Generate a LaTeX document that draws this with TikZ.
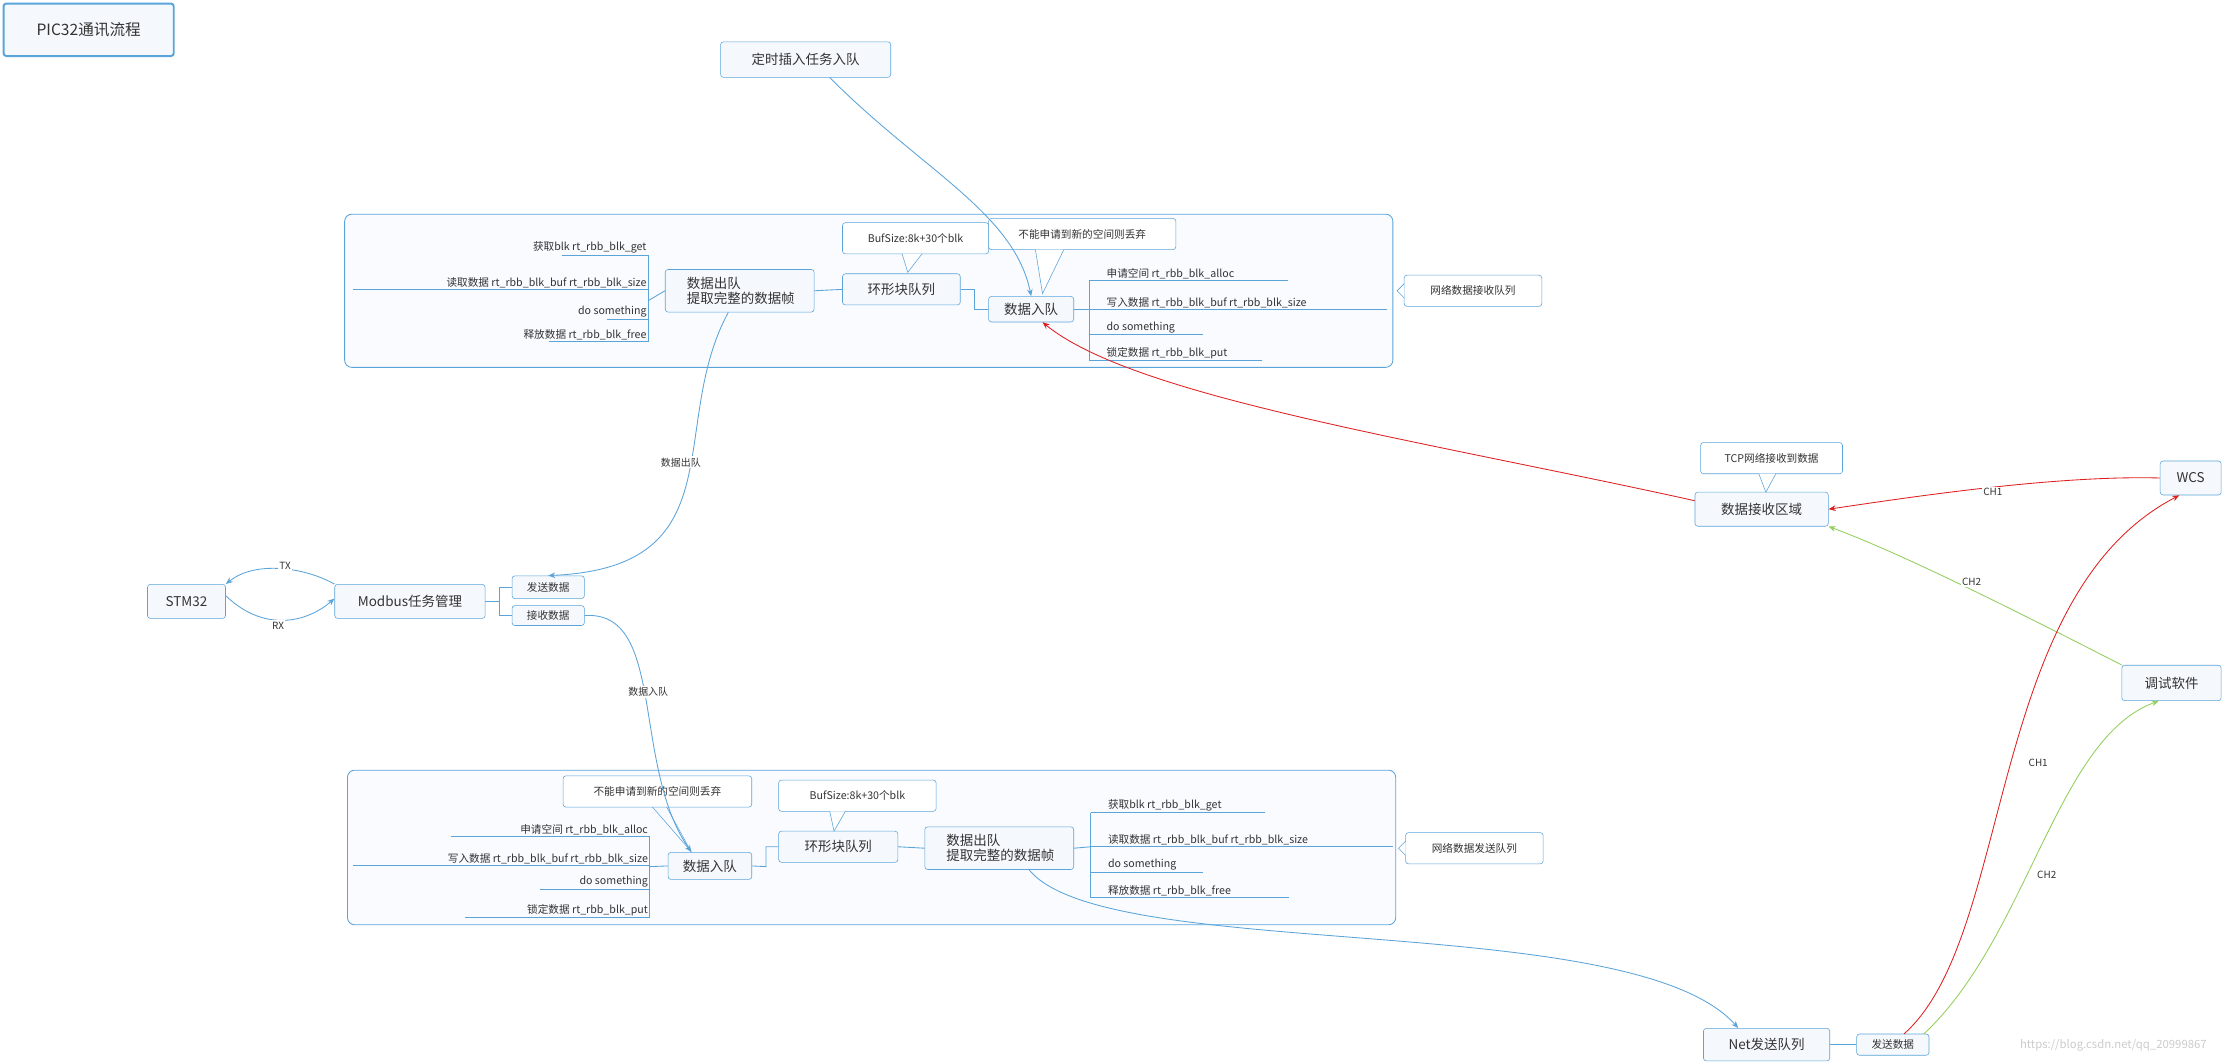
\documentclass[tikz,border=0pt]{standalone}
\usepackage{fontspec}
\setmainfont{Noto Sans CJK SC}
\usetikzlibrary{arrows.meta,shapes.callouts}
\definecolor{bl}{HTML}{5BA4DA}
\definecolor{bx}{HTML}{F5F9FD}
\definecolor{gr}{HTML}{92CF5C}
\definecolor{rd}{HTML}{E02020}
\definecolor{tx}{HTML}{333333}
\tikzset{
 box/.style={draw=bl,fill=bx,rounded corners=2pt,inner sep=0pt,font=\fontsize{9.5}{10.5}\selectfont,text=tx,align=left},
 lab/.style={font=\fontsize{7.5}{8}\selectfont,text=tx,inner sep=1pt,anchor=south east},
 labr/.style={font=\fontsize{7.5}{8}\selectfont,text=tx,inner sep=1pt,anchor=south west},
 cl/.style={draw=bl,fill=white,rounded corners=2pt,font=\fontsize{7.5}{8}\selectfont,text=tx,inner sep=0pt},
 ln/.style={draw=bl,line width=0.6pt},
 ar/.style={draw=bl,line width=0.6pt,-{Stealth[length=5pt,width=4pt]}},
 ch/.style={font=\fontsize{7}{8}\selectfont,text=tx,fill=white,inner sep=1pt},
 cont/.style={draw=bl,fill=bx!60,rounded corners=5pt,line width=0.6pt}
}
\newcommand{\bx}[5]{\node[box,minimum width=#3pt,minimum height=#4pt] (#1) at (#2) {#5};}
\begin{document}
\begin{tikzpicture}[x=1pt,y=-1pt]
\useasboundingbox[fill=white] (0,0) rectangle (1568,749.5);
\node[draw=bl,line width=1.4pt,fill=bx,rounded corners=2pt,minimum width=120pt,minimum height=37pt,font=\fontsize{11}{12}\selectfont,text=tx] (title) at (62.5,21) {PIC32通讯流程};
\draw[cont] (243,151) rectangle (982,259);
\draw[cont] (245,543) rectangle (984,652);
% top
\bx{dsq}{568,42}{120}{25}{定时插入任务入队}
\bx{tout}{521.5,205}{105}{30}{\,数据出队\\\,提取完整的数据帧}
\bx{tring}{635.5,204}{83}{22}{环形块队列}
\bx{tin}{727,218}{60}{18}{数据入队}
\draw[cl] (594,157) rectangle (697,179);
\node[cl,draw=none,fill=none] (tbuf) at (645.5,168) {BufSize:8k+30个blk};
\draw[bl,fill=white] (636,179) -- (640,192) -- (650,179);
\draw[cl] (697,154) rectangle (829,176);
\node[cl,draw=none,fill=none] (tdrop) at (763,165) {不能申请到新的空间则丢弃};
\draw[bl,fill=white] (730,176) -- (735,207) -- (750,176);
\node[lab] (t1) at (457,180) {获取blk rt\_rbb\_blk\_get};
\node[lab] (t2) at (457,204) {读取数据 rt\_rbb\_blk\_buf rt\_rbb\_blk\_size};
\node[lab] (t3) at (457,225) {do something};
\node[lab] (t4) at (457,241) {释放数据 rt\_rbb\_blk\_free};
\draw[ln] (396,180)--(457,180) (249,204)--(457,204) (428,225)--(457,225) (387,241)--(457,241) (457,180)--(457,241);
\draw[ln] (457,212) -- (tout.west);
\node[labr] (t5) at (779,198) {申请空间 rt\_rbb\_blk\_alloc};
\node[labr] (t6) at (779,218) {写入数据 rt\_rbb\_blk\_buf rt\_rbb\_blk\_size};
\node[labr] (t7) at (779,236) {do something};
\node[labr] (t8) at (779,254) {锁定数据 rt\_rbb\_blk\_put};
\draw[ln] (768,198)--(908,198) (768,218)--(978,218) (768,236)--(848,236) (768,254)--(890,254) (768,198)--(768,254);
\draw[ln] (tin.east) -- (768,218);
\draw[ln] (tout.east) -- (tring.west);
\draw[ln] (tring.east) -- (687,204) |- (tin.west);
\node[cl,minimum width=97pt,minimum height=22pt] (tnet) at (1038.5,205) {网络数据接收队列};
\draw[bl,fill=white] (990,200) -- (985,205) -- (990,210);
% bottom
\bx{bin}{500.5,610.5}{59}{19}{数据入队}
\bx{bring}{591,597}{84}{22}{环形块队列}
\bx{bout}{704.5,598}{105}{30}{\,数据出队\\\,提取完整的数据帧}
\draw[cl] (397,547) rectangle (530,569);
\node[cl,draw=none,fill=none] (bdrop) at (463.5,558) {不能申请到新的空间则丢弃};
\draw[cl] (549,550) rectangle (660,572);
\node[cl,draw=none,fill=none] (bbuf) at (604.5,561) {BufSize:8k+30个blk};
\draw[bl,fill=white] (585,572) -- (588,586) -- (596,572);
\draw[bl] (460,569) -- (487,600) -- (470,569);
\node[lab] (b1) at (458,590) {申请空间 rt\_rbb\_blk\_alloc};
\node[lab] (b2) at (458,610) {写入数据 rt\_rbb\_blk\_buf rt\_rbb\_blk\_size};
\node[lab] (b3) at (458,627) {do something};
\node[lab] (b4) at (458,647) {锁定数据 rt\_rbb\_blk\_put};
\draw[ln] (318,590)--(458,590) (249,610)--(458,610) (381,627)--(458,627) (328,647)--(458,647) (458,590)--(458,647);
\draw[ln] (458,611) -- (bin.west);
\node[labr] (b5) at (780,573) {获取blk rt\_rbb\_blk\_get};
\node[labr] (b6) at (780,597) {读取数据 rt\_rbb\_blk\_buf rt\_rbb\_blk\_size};
\node[labr] (b7) at (780,615) {do something};
\node[labr] (b8) at (780,633) {释放数据 rt\_rbb\_blk\_free};
\draw[ln] (769,573)--(892,573) (769,597)--(982,597) (769,615)--(848,615) (769,633)--(909,633) (769,573)--(769,633);
\draw[ln] (bout.east) -- (769,597);
\draw[ln] (bin.east) -- (540,611) |- (bring.west);
\draw[ln] (bring.east) -- (bout.west);
\node[cl,minimum width=97pt,minimum height=22pt] (bnet) at (1039.5,598) {网络数据发送队列};
\draw[bl,fill=white] (991,593) -- (986,598) -- (991,603);
% middle left
\bx{stm}{131.5,424}{55}{24}{STM32}
\bx{mod}{289,424}{106}{24}{Modbus任务管理}
\node[box,minimum width=51pt,minimum height=16pt,font=\fontsize{7.5}{8}\selectfont] (send) at (386.5,414) {发送数据};
\node[box,minimum width=51pt,minimum height=14pt,font=\fontsize{7.5}{8}\selectfont] (recv) at (386.5,434) {接收数据};
\draw[ln] (mod.east) -- (352,424) |- (send.west);
\draw[ln] (352,424) |- (recv.west);
\draw[ar] (mod.north west) .. controls (215,400) and (180,395) .. (stm.north east);
\node[ch] (tx) at (201,399) {TX};
\draw[ar] ([yshift=4pt]stm.east) .. controls (185,445) and (215,440) .. ([yshift=2pt]mod.west);
\node[ch] (rx) at (196,441) {RX};
% right side
\bx{rcv}{1242,359}{94}{24}{数据接收区域}
\draw[cl] (1199,312) rectangle (1299,334);
\node[cl,draw=none,fill=none] (tcp) at (1249,323) {TCP网络接收到数据};
\draw[bl,fill=white] (1240,334) -- (1245,347) -- (1252,334);
\bx{wcs}{1544.5,337}{43}{24}{WCS}
\bx{dbg}{1531,481.5}{70}{25}{调试软件}
\bx{net}{1245.5,736.5}{89}{23}{Net发送队列}
\node[box,minimum width=51pt,minimum height=15pt,font=\fontsize{7.5}{8}\selectfont] (nsend) at (1334.5,736.5) {发送数据};
\draw[ln] (net.east) -- (nsend.west);
% connectors
\draw[ar] (dsq.south) ++(17,0) .. controls (650,120) and (715,150) .. (tin.north);
\draw[ar] ([xshift=-8pt]tout.south) .. controls (470,300) and (520,400) .. (send.north);
\node[ch] (l1) at (480,326) {数据出队};
\draw[ar] (recv.east) .. controls (470,430) and (445,540) .. ([xshift=-13pt]bin.north);
\node[ch] (l2) at (457,488) {数据入队};
\draw[ar] ([xshift=21pt]bout.south) .. controls (780,680) and (1150,640) .. ([xshift=-20pt]net.north);
\draw[draw=rd,line width=0.6pt,-{Stealth[length=5pt,width=4pt]}] ([yshift=6pt]rcv.west) .. controls (1000,310) and (800,280) .. ([xshift=8pt]tin.south);
\draw[draw=rd,line width=0.6pt,-{Stealth[length=5pt,width=4pt]}] (wcs.west) .. controls (1450,335) and (1350,350) .. (rcv.east);
\node[ch] (c1) at (1405,347) {CH1};
\draw[draw=gr,line width=0.6pt,-{Stealth[length=5pt,width=4pt]}] (dbg.north west) .. controls (1420,430) and (1340,390) .. (rcv.south east);
\node[ch] (c2) at (1390,410) {CH2};
\draw[draw=rd,line width=0.6pt,-{Stealth[length=5pt,width=4pt]}] ([xshift=8pt]nsend.north) .. controls (1420,660) and (1400,420) .. ([xshift=-8pt]wcs.south);
\node[ch] (c3) at (1437,538) {CH1};
\draw[draw=gr,line width=0.6pt,-{Stealth[length=5pt,width=4pt]}] ([xshift=22pt]nsend.north) .. controls (1430,660) and (1450,520) .. ([xshift=-9pt]dbg.south);
\node[ch] (c4) at (1443,617) {CH2};
\node[font=\fontsize{8}{9}\selectfont,text=gray!40] (wm) at (1490,737) {https://blog.csdn.net/qq\_20999867};
\end{tikzpicture}
\end{document}
